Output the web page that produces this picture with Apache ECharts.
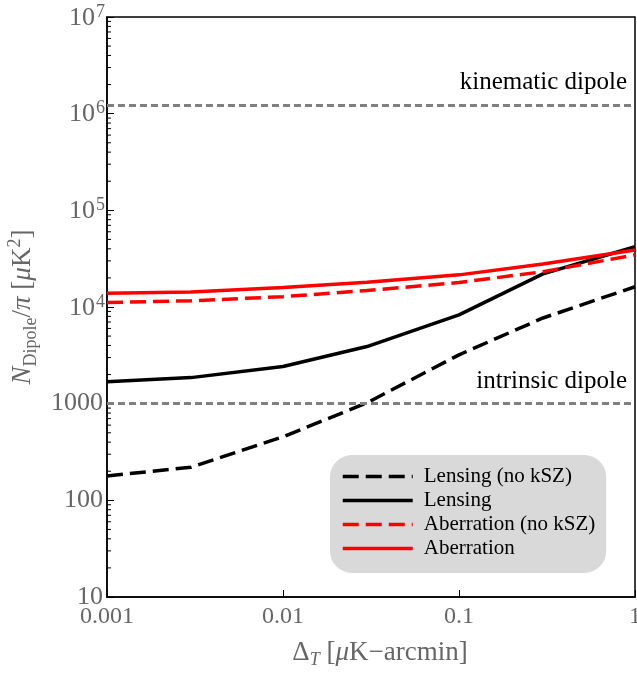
<!DOCTYPE html>
<html>
<head>
<meta charset="utf-8">
<script src="https://cdn.jsdelivr.net/npm/echarts@6/dist/echarts.min.js"></script>
<style>
  html, body { margin: 0; padding: 0; background: #fff; }
  #chart { width: 637px; height: 675px; }
</style>
</head>
<body>
<div id="chart"></div>
<script>
// noise levels (x axis)
var deltaT = [0.001, 0.003, 0.01, 0.03, 0.1, 0.3, 1];

// N_Dipole / pi values
var lensingNoKsz     = [179, 220, 454, 1020, 3200, 7700, 16200];
var lensing          = [1690, 1860, 2420, 3900, 8300, 22000, 42000];
var aberrationNoKsz  = [11100, 11600, 12800, 14800, 17900, 23200, 34600];
var aberration       = [13900, 14300, 15900, 18000, 21500, 27900, 38900];

// reference levels
var kinematicDipole = 1.23e6;
var intrinsicDipole = 1000;

// minor tick positions on the y axis
var yMinorTicks = [];
[10, 100, 1000, 1e4, 1e5, 1e6].forEach(function (d) {
    for (var m = 2; m <= 9; m++) yMinorTicks.push([0.001, m * d]);
});

var serif = 'Liberation Serif';
var grayTxt = '#666666';

function pairs(ys) {
    return deltaT.map(function (x, i) { return [x, ys[i]]; });
}

var myChart = echarts.init(document.getElementById('chart'));

var option = {
    animation: false,
    grid: {
        left: 107,
        right: 2,
        top: 17,
        bottom: 78,
        containLabel: false,
        outerBoundsMode: 'none',
        show: true,
        borderColor: '#000',
        borderWidth: 1.5,
        backgroundColor: 'transparent'
    },
    legend: {
        orient: 'vertical',
        left: 330,
        top: 455,
        padding: [11, 11, 14, 11],
        itemGap: 3,
        itemWidth: 70,
        itemHeight: 20,
        backgroundColor: '#d9d9d9',
        borderRadius: 22,
        itemStyle: { opacity: 0 },
        lineStyle: { width: 3.5 },
        textStyle: { fontFamily: serif, fontSize: 21, color: '#000', padding: [0, 0, 0, 6] },
        data: ['Lensing (no kSZ)', 'Lensing', 'Aberration (no kSZ)', 'Aberration']
    },
    xAxis: {
        type: 'log',
        logBase: 10,
        min: 0.001,
        max: 1,
        name: '{d|Δ}{sub|T}{n| [}{i|μ}{n|K−arcmin]}',
        nameLocation: 'middle',
        nameGap: 40,
        nameTextStyle: {
            rich: {
                d: { fontFamily: serif, fontSize: 27, color: grayTxt, lineHeight: 32, padding: [0, 0, 0, 18] },
                sub: { fontFamily: serif, fontSize: 18, fontStyle: 'italic', color: grayTxt, verticalAlign: 'bottom', lineHeight: 32 },
                n: { fontFamily: serif, fontSize: 27, color: grayTxt, lineHeight: 32 },
                i: { fontFamily: serif, fontSize: 27, fontStyle: 'italic', color: grayTxt, lineHeight: 32 }
            }
        },
        axisLine: { lineStyle: { color: '#000', width: 1.5 } },
        axisTick: { inside: true, length: 7, lineStyle: { color: '#000', width: 1 } },
        splitLine: { show: false },
        axisLabel: {
            fontFamily: serif,
            fontSize: 24,
            color: grayTxt,
            margin: 8,
            formatter: function (v) {
                if (v < 0.005) return '0.001';
                if (v < 0.05) return '0.01';
                if (v < 0.5) return '0.1';
                return '1';
            }
        }
    },
    yAxis: {
        type: 'log',
        logBase: 10,
        min: 10,
        max: 1e7,
        name: '{i|N}{sub|Dipole}{n|/}{i|π}{n| [}{i|μ}{n|K}{sup|2}{n|]}',
        nameLocation: 'middle',
        nameGap: 67,
        nameRotate: 90,
        nameTextStyle: {
            rich: {
                i: { fontFamily: serif, fontSize: 27, fontStyle: 'italic', color: grayTxt, lineHeight: 34 },
                n: { fontFamily: serif, fontSize: 27, color: grayTxt, lineHeight: 34 },
                sub: { fontFamily: serif, fontSize: 18, color: grayTxt, verticalAlign: 'bottom', lineHeight: 34 },
                sup: { fontFamily: serif, fontSize: 18, color: grayTxt, verticalAlign: 'top', lineHeight: 34 }
            }
        },
        axisLine: { lineStyle: { color: '#000', width: 1.5 } },
        axisTick: { inside: true, length: 7, lineStyle: { color: '#000', width: 1 } },
        splitLine: { show: false },
        axisLabel: {
            margin: 2,
            formatter: function (v) {
                var e = Math.round(Math.log(v) / Math.LN10);
                if (e <= 3) return '{p|' + Math.pow(10, e) + '}';
                return '{b|10}{s|' + e + '}';
            },
            rich: {
                p: { fontFamily: serif, fontSize: 26, color: grayTxt, padding: [0, 2, 0, 0] },
                b: { fontFamily: serif, fontSize: 26, color: grayTxt, lineHeight: 28, verticalAlign: 'bottom' },
                s: { fontFamily: serif, fontSize: 18, color: grayTxt, lineHeight: 28, verticalAlign: 'top', padding: [0, 0, 0, 1] }
            }
        }
    },
    series: [
        {
            name: 'Lensing (no kSZ)',
            type: 'line',
            data: pairs(lensingNoKsz),
            symbol: 'none',
            z: 3,
            lineStyle: { color: '#000', width: 3.5, type: [16, 7] },
            itemStyle: { color: '#000' }
        },
        {
            name: 'Lensing',
            type: 'line',
            data: pairs(lensing),
            symbol: 'none',
            z: 3,
            lineStyle: { color: '#000', width: 3.5 },
            itemStyle: { color: '#000' }
        },
        {
            name: 'Aberration (no kSZ)',
            type: 'line',
            data: pairs(aberrationNoKsz),
            symbol: 'none',
            z: 3,
            lineStyle: { color: '#ff0000', width: 3.5, type: [16, 7] },
            itemStyle: { color: '#ff0000' }
        },
        {
            name: 'Aberration',
            type: 'line',
            data: pairs(aberration),
            symbol: 'none',
            z: 3,
            lineStyle: { color: '#ff0000', width: 3.5 },
            itemStyle: { color: '#ff0000' }
        },
        {
            name: 'dipoles',
            type: 'line',
            data: [],
            silent: true,
            markLine: {
                silent: true,
                symbol: 'none',
                lineStyle: { color: '#808080', width: 3, type: [7, 4] },
                label: {
                    position: 'insideEndTop',
                    distance: [8, 10],
                    fontFamily: serif,
                    fontSize: 25,
                    color: '#000'
                },
                data: [
                    { yAxis: kinematicDipole, label: { formatter: 'kinematic dipole' } },
                    { yAxis: intrinsicDipole, label: { formatter: 'intrinsic dipole' } }
                ]
            }
        },
        {
            name: 'minorTicks',
            type: 'custom',
            silent: true,
            data: yMinorTicks,
            renderItem: function (params, api) {
                var p = api.coord([api.value(0), api.value(1)]);
                return {
                    type: 'line',
                    shape: { x1: p[0], y1: p[1], x2: p[0] + 4, y2: p[1] },
                    style: { stroke: '#000', lineWidth: 1 }
                };
            }
        }
    ]
};

myChart.setOption(option);
</script>
</body>
</html>
